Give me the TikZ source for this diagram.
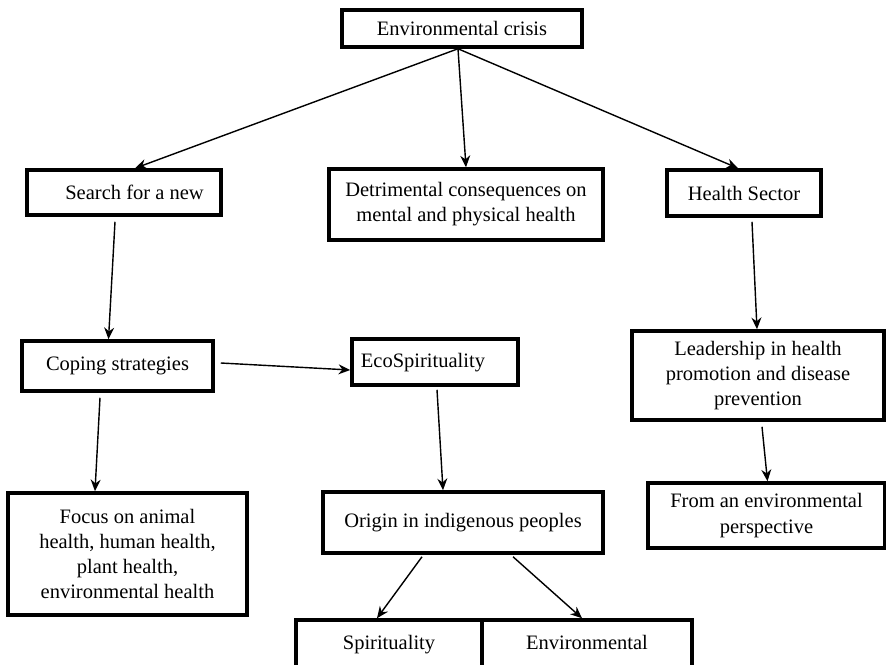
\documentclass[tikz,border=0pt]{standalone}
\usepackage{fontspec}
\setmainfont{Liberation Serif}
\usepackage{tikz}
\usetikzlibrary{arrows.meta}

\begin{document}
\begin{tikzpicture}[x=0.03cm, y=-0.03cm,
    box/.style={draw, line width=3pt, fill=white, align=center, inner sep=0pt,
      font=\fontsize{17.5}{21.5}\selectfont},
    arr/.style={-{Stealth[length=10pt,width=8.5pt]}, line width=1.2pt}]
  \useasboundingbox (0,0) rectangle (886,665);
  % top level
  \node[box, minimum width=240*0.03cm, minimum height=37*0.03cm] (crisis) at (462,28.5) {Environmental crisis};
  \node[box, minimum width=194*0.03cm, minimum height=45*0.03cm] (search) at (124,192.5) {\hspace*{0.63cm}Search for a new};
  \node[box, minimum width=274*0.03cm, minimum height=71*0.03cm] (detr) at (466,204.5) {Detrimental consequences on\\mental and physical health};
  \node[box, minimum width=154*0.03cm, minimum height=46*0.03cm] (health) at (744,193) {Health Sector};
  % middle level
  \node[box, minimum width=191*0.03cm, minimum height=50*0.03cm] (coping) at (117.5,366) {Coping strategies};
  \node[box, minimum width=166*0.03cm, minimum height=46*0.03cm] (eco) at (435,362) {\strut EcoSpirituality\hspace*{0.72cm}};
  \node[box, minimum width=252*0.03cm, minimum height=89*0.03cm] (leader) at (758,375.5) {Leadership in health\\promotion and disease\\prevention};
  % bottom level
  \node[box, minimum width=239*0.03cm, minimum height=122*0.03cm] (focus) at (127.5,554) {Focus on animal\\health, human health,\\plant health,\\environmental health};
  \node[box, minimum width=280*0.03cm, minimum height=61*0.03cm] (origin) at (463,522.5) {Origin in indigenous peoples};
  \node[box, minimum width=237*0.03cm, minimum height=65*0.03cm] (from) at (766.5,515.5) {From an environmental\\perspective};
  \node[box, minimum width=186*0.03cm, minimum height=48*0.03cm] (spirit) at (389,644) {\strut Spirituality};
  \node[box, minimum width=210*0.03cm, minimum height=48*0.03cm] (env) at (587,644) {\strut Environmental};

  \path[arr]
    ([shift={(-4,0)}]crisis.south) edge ([shift={(11,0)}]search.north)
    ([shift={(-4,0)}]crisis.south) edge (detr.north)
    ([shift={(-4,0)}]crisis.south) edge ([shift={(-6,0)}]health.north)
    ([shift={(-9,5)}]search.south) edge ([shift={(-9,0)}]coping.north)
    ([shift={(6,-3)}]coping.east) edge ([shift={(0,8)}]eco.west)
    ([shift={(-17.5,5)}]coping.south) edge ([shift={(-32.5,0)}]focus.north)
    ([shift={(2,3)}]eco.south) edge ([shift={(-20,0)}]origin.north)
    ([shift={(-41,2)}]origin.south) edge ([shift={(-12,0)}]spirit.north)
    ([shift={(50,2)}]origin.south) edge ([shift={(-5,0)}]env.north)
    ([shift={(8,4)}]health.south) edge ([shift={(-1,0)}]leader.north)
    ([shift={(4,5)}]leader.south) edge ([shift={(1,0)}]from.north);
\end{tikzpicture}
\end{document}
